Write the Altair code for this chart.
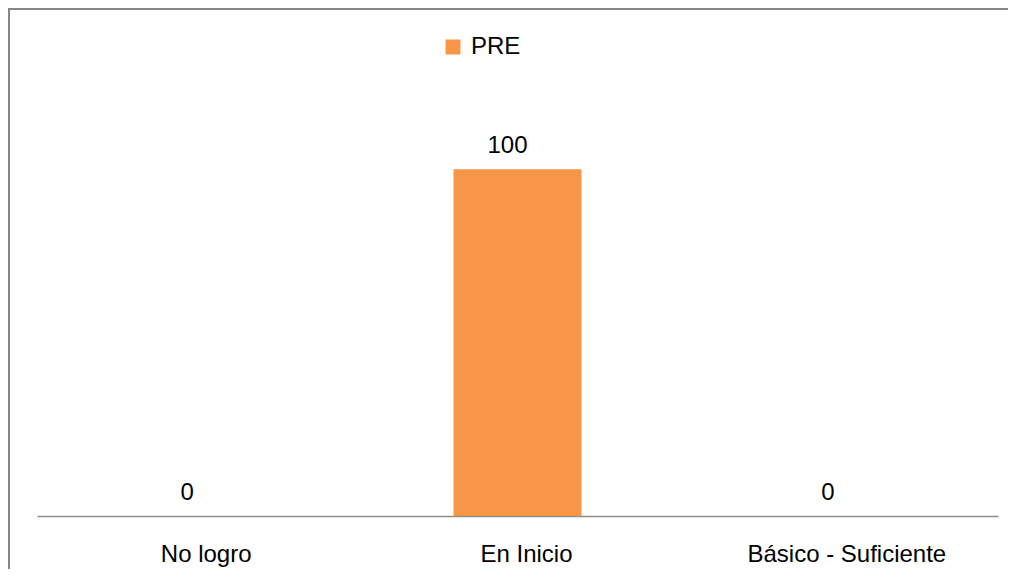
import altair as alt
import pandas as pd

categories = ["No logro", "En Inicio", "Básico - Suficiente"]
values = [0, 100, 0]
series = ["PRE", "PRE", "PRE"]

df = pd.DataFrame({"cat": categories, "val": values, "serie": series})

FONT = "Liberation Sans"
FS = 24

x_enc = alt.X(
    "cat:N",
    sort=categories,
    scale=alt.Scale(paddingInner=0.6, paddingOuter=0.3),
    axis=alt.Axis(
        title=None,
        labelAngle=0,
        ticks=False,
        labelPadding=26,
        labelOffset=9,
        labelFontSize=FS,
        labelFont=FONT,
        labelColor="#000000",
        labelLimit=0,
        domainColor="#8c8c8c",
        domainWidth=1.5,
        grid=False,
    ),
)
y_enc = alt.Y("val:Q", scale=alt.Scale(domain=[0, 120]), axis=None)

bars = alt.Chart(df).mark_bar(size=128).encode(
    x=x_enc,
    y=y_enc,
    color=alt.Color(
        "serie:N",
        scale=alt.Scale(range=["#F79646"]),
        legend=alt.Legend(
            title=None,
            orient="none",
            legendX=404,
            legendY=-65,
            symbolType="square",
            symbolSize=225,
            symbolStrokeWidth=0,
            labelFontSize=FS,
            labelFont=FONT,
            labelColor="#000000",
            labelOffset=6,
            padding=0,
        ),
    ),
)

labels = alt.Chart(df).mark_text(
    baseline="alphabetic", dy=-16, dx=-10, fontSize=FS, font=FONT, color="#000000"
).encode(x=alt.X("cat:N", sort=categories), y=y_enc, text=alt.Text("val:Q"))

border_df = pd.DataFrame({"b": [1]})
left_edge = alt.Chart(border_df).mark_rule(stroke="#868686", strokeWidth=2).encode(
    x=alt.value(-28), y=alt.value(-92), y2=alt.value(469)
)
top_edge = alt.Chart(border_df).mark_rule(stroke="#868686", strokeWidth=2).encode(
    x=alt.value(-29), x2=alt.value(971), y=alt.value(-91)
)

chart = alt.layer(left_edge, top_edge, bars, labels).properties(
    width=961,
    height=416,
    autosize=alt.AutoSizeParams(type="none"),
    padding={"left": 29, "top": 92, "right": 10, "bottom": 53},
).configure_view(stroke=None)

chart.save("out.html", embed_options={"renderer": "svg", "actions": False})
